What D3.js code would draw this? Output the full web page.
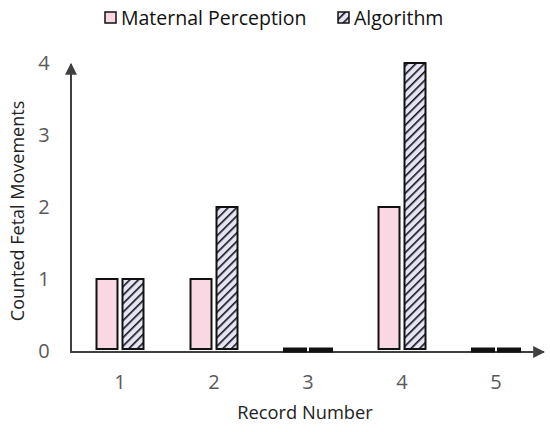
<!DOCTYPE html>
<html>
<head>
<meta charset="utf-8">
<script src="https://cdn.jsdelivr.net/npm/d3@7"></script>
<style>
  body { margin: 0; background: #fff; }
  svg { display: block; font-family: "Open Sans", Lato, sans-serif; }
</style>
</head>
<body>
<div id="chart"></div>
<script>
const records = ['1', '2', '3', '4', '5'];
const maternal = [1, 1, 0, 2, 0];
const algorithm = [1, 2, 0, 4, 0];
const yTicks = [0, 1, 2, 3, 4];

const seriesNames = ['Maternal Perception', 'Algorithm'];

const width = 550;
const height = 432;

const svg = d3.select("#chart")
  .append("svg")
  .attr("width", width)
  .attr("height", height);

const defs = svg.append("defs");

const hatch = defs.append("pattern")
  .attr("id", "hatch")
  .attr("patternUnits", "userSpaceOnUse")
  .attr("width", 6)
  .attr("height", 6)
  .attr("patternTransform", "rotate(45)");
hatch.append("rect")
  .attr("width", 6)
  .attr("height", 6)
  .attr("fill", "#e4e4f4");
hatch.append("line")
  .attr("x1", 0).attr("y1", 0)
  .attr("x2", 0).attr("y2", 6)
  .attr("stroke", "#111")
  .attr("stroke-width", 3.2);

defs.append("marker")
  .attr("id", "arrow")
  .attr("viewBox", "0 0 10 10")
  .attr("refX", 9)
  .attr("refY", 5)
  .attr("markerWidth", 6)
  .attr("markerHeight", 6)
  .attr("markerUnits", "strokeWidth")
  .attr("orient", "auto")
  .append("path")
  .attr("d", "M0,0 L10,5 L0,10 Z")
  .attr("fill", "#404040");

const fills = ['#f9d8e4', 'url(#hatch)'];

const x = d3.scaleBand()
  .domain(records)
  .range([73, 543])
  .padding(0);

const y = d3.scaleLinear()
  .domain([0, 4])
  .range([351, 63]);

const barW = 21;
const gap = 5;

// axes with arrow heads (drawn first so zero bars sit on top)
svg.append("line")
  .attr("x1", 71).attr("y1", 352)
  .attr("x2", 71).attr("y2", 64)
  .attr("stroke", "#404040")
  .attr("stroke-width", 2)
  .attr("marker-end", "url(#arrow)");

svg.append("line")
  .attr("x1", 70).attr("y1", 352)
  .attr("x2", 544).attr("y2", 352)
  .attr("stroke", "#404040")
  .attr("stroke-width", 2)
  .attr("marker-end", "url(#arrow)");

// bars as closed paths, so a zero value still shows its outline
const groups = svg.selectAll("g.rec")
  .data(records)
  .enter()
  .append("g")
  .attr("class", "rec")
  .attr("transform", d => `translate(${x(d) + x.bandwidth() / 2},0)`);

function barPath(x0, top, bottom) {
  return `M${x0},${bottom}V${top}H${x0 + barW}V${bottom}Z`;
}

[maternal, algorithm].forEach((vals, s) => {
  const x0 = s === 0 ? -(barW + gap / 2) : gap / 2;
  groups.append("path")
    .attr("d", (d, i) => barPath(x0, y(vals[i]), y(0) - 2))
    .attr("fill", fills[s])
    .attr("stroke", "#111")
    .attr("stroke-width", (d, i) => vals[i] === 0 ? 3 : 2);
});

// tick labels
svg.selectAll("text.ytick")
  .data(yTicks)
  .enter()
  .append("text")
  .attr("class", "ytick")
  .attr("x", 44)
  .attr("y", d => y(d))
  .attr("dy", "0.36em")
  .attr("text-anchor", "middle")
  .attr("fill", "#595959")
  .style("font-size", "20px")
  .text(d => d);

svg.selectAll("text.xtick")
  .data(records)
  .enter()
  .append("text")
  .attr("class", "xtick")
  .attr("x", d => x(d) + x.bandwidth() / 2)
  .attr("y", 389)
  .attr("text-anchor", "middle")
  .attr("fill", "#595959")
  .style("font-size", "20px")
  .text(d => d);

// axis titles
svg.append("text")
  .attr("x", 305)
  .attr("y", 419)
  .attr("text-anchor", "middle")
  .attr("fill", "#222")
  .style("font-size", "18.3px")
  .text("Record Number");

svg.append("text")
  .attr("transform", "translate(24,211) rotate(-90)")
  .attr("text-anchor", "middle")
  .attr("fill", "#222")
  .style("font-size", "18px")
  .text("Counted Fetal Movements");

// legend
const legend = svg.append("g").attr("class", "legend");
const legendX = [105, 338];
seriesNames.forEach((name, i) => {
  legend.append("rect")
    .attr("x", legendX[i])
    .attr("y", 12)
    .attr("width", 11)
    .attr("height", 11)
    .attr("fill", fills[i])
    .attr("stroke", "#111")
    .attr("stroke-width", 1.5);
  legend.append("text")
    .attr("x", legendX[i] + 16)
    .attr("y", 25)
    .attr("fill", "#111")
    .style("font-size", "19.5px")
    .text(name);
});
</script>
</body>
</html>
